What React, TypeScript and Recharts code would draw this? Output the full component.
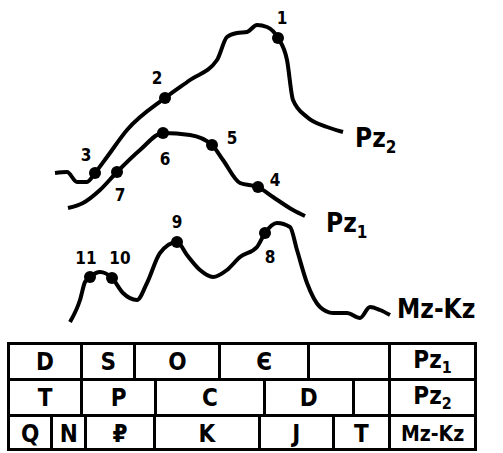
import React from 'react';
import { LineChart, Line, XAxis, YAxis, ReferenceDot } from 'recharts';

// curve traces, x/y (y grows downward)
const pz2 = [
  { x: 55, y: 173 }, { x: 67, y: 172 }, { x: 77, y: 182 }, { x: 87, y: 182 },
  { x: 95, y: 173, mark: '3' }, { x: 107, y: 157 }, { x: 127, y: 130 },
  { x: 165, y: 98, mark: '2' }, { x: 190, y: 80 }, { x: 217, y: 60 },
  { x: 227, y: 37 }, { x: 237, y: 33 }, { x: 247, y: 32 }, { x: 257, y: 25 },
  { x: 267, y: 27 }, { x: 278, y: 38, mark: '1' }, { x: 287, y: 60 },
  { x: 293, y: 100 }, { x: 307, y: 117 }, { x: 327, y: 127 }, { x: 343, y: 132 },
];

const pz1 = [
  { x: 68, y: 208 }, { x: 83, y: 203 }, { x: 100, y: 190 }, { x: 117, y: 172, mark: '7' },
  { x: 140, y: 150 }, { x: 163, y: 133, mark: '6' }, { x: 190, y: 135 },
  { x: 212, y: 145, mark: '5' }, { x: 223, y: 160 }, { x: 240, y: 183 },
  { x: 258, y: 187, mark: '4' }, { x: 273, y: 197 }, { x: 293, y: 210 }, { x: 305, y: 216 },
];

const mzKz = [
  { x: 70, y: 322 }, { x: 80, y: 300 }, { x: 85, y: 282 }, { x: 90, y: 277, mark: '11' },
  { x: 100, y: 272 }, { x: 112, y: 278, mark: '10' }, { x: 123, y: 293 }, { x: 137, y: 300 },
  { x: 147, y: 283 }, { x: 160, y: 253 }, { x: 177, y: 242, mark: '9' }, { x: 187, y: 255 },
  { x: 200, y: 270 }, { x: 213, y: 277 }, { x: 227, y: 270 }, { x: 240, y: 257 },
  { x: 257, y: 247 }, { x: 265, y: 233, mark: '8' }, { x: 277, y: 223 }, { x: 290, y: 227 },
  { x: 297, y: 250 }, { x: 307, y: 283 }, { x: 320, y: 307 }, { x: 333, y: 313 },
  { x: 347, y: 313 }, { x: 360, y: 318 }, { x: 370, y: 307 }, { x: 380, y: 310 }, { x: 390, y: 315 },
];

const seriesNames = [
  { base: 'Pz', sub: '2', x: 355, y: 147 },
  { base: 'Pz', sub: '1', x: 326, y: 232 },
  { base: 'Mz-Kz', sub: '', x: 397, y: 318 },
];

// where each point number sits relative to its dot
const markOffsets: Record<string, [number, number]> = {
  '1': [4, -20], '2': [-8, -20], '3': [-9, -18], '4': [17, -7], '5': [20, -7],
  '6': [2, 26], '7': [3, 23], '8': [5, 24], '9': [0, -20], '10': [8, -20], '11': [-4, -19],
};

// stratigraphic table
const row1 = ['D', 'S', 'O', 'Є', '', 'Pz1'];
const row2 = ['T', 'P', 'C', 'D', '', 'Pz2'];
const row3 = ['Q', 'N', '₽', 'K', 'J', 'T', 'Mz-Kz'];
const row1W = [71, 54, 86, 90, 82, 87];
const row2W = [71, 75, 110, 90, 37, 87];
const row3W = [41, 34, 70, 106, 75, 57, 87];

const font = '"DejaVu Sans Condensed", "DejaVu Sans", sans-serif';

const renderDot = (props: any) => {
  const { cx, cy, payload, index } = props;
  if (!payload.mark) return <g key={`d-${index}`} />;
  const [dx, dy] = markOffsets[payload.mark] || [0, -18];
  return (
    <g key={`d-${index}`}>
      <circle cx={cx} cy={cy} r={6} fill="#000" />
      <text x={cx + dx} y={cy + dy} textAnchor="middle" dominantBaseline="central"
        fontFamily={font} fontWeight="bold" fontSize={17} fill="#000">{payload.mark}</text>
    </g>
  );
};

const renderCell = (text: string, w: number, i: number) => {
  let content: React.ReactNode = text;
  if (text === 'Pz1' || text === 'Pz2') {
    content = <span>Pz<span style={{ fontSize: 16, verticalAlign: -5 }}>{text[2]}</span></span>;
  }
  return (
    <div key={i} style={{
      width: w, boxSizing: 'border-box', borderLeft: i === 0 ? 'none' : '3px solid #000',
      display: 'flex', alignItems: 'center', justifyContent: 'center',
      fontSize: text === 'Mz-Kz' ? 21 : 24,
    }}>{content}</div>
  );
};

const App: React.FC = () => {
  const rows = [[row1, row1W], [row2, row2W], [row3, row3W]] as [string[], number[]][];
  return (
    <div style={{ position: 'absolute', left: 0, top: 0, width: 503, height: 453, background: '#fff' }}>
      <LineChart width={503} height={340} margin={{ top: 0, right: 0, bottom: 0, left: 0 }}>
        <XAxis type="number" dataKey="x" domain={[0, 503]} hide />
        <YAxis type="number" dataKey="y" domain={[0, 340]} reversed hide />
        <Line data={pz2} dataKey="y" type="monotone" stroke="#000" strokeWidth={4}
          dot={renderDot} activeDot={false} isAnimationActive={false} />
        <Line data={pz1} dataKey="y" type="monotone" stroke="#000" strokeWidth={4}
          dot={renderDot} activeDot={false} isAnimationActive={false} />
        <Line data={mzKz} dataKey="y" type="monotone" stroke="#000" strokeWidth={4}
          dot={renderDot} activeDot={false} isAnimationActive={false} />
        {seriesNames.map((s, i) => (
          <ReferenceDot key={i} x={s.x} y={s.y} r={0} ifOverflow="visible"
            shape={(p: any) => (
              <text x={p.cx} y={p.cy} fontFamily={font} fontWeight="bold" fontSize={26} fill="#000">
                {s.base}
                {s.sub && <tspan fontSize={17} dy={6}>{s.sub}</tspan>}
              </text>
            )} />
        ))}
      </LineChart>
      <div style={{
        position: 'absolute', left: 7, top: 342, width: 470, height: 109, boxSizing: 'border-box',
        border: '3px solid #000', fontFamily: font, fontWeight: 'bold', color: '#000',
      }}>
        {rows.map(([texts, widths], r) => (
          <div key={r} style={{
            display: 'flex', height: r === 0 ? 33 : 36, borderTop: r === 0 ? 'none' : '3px solid #000', boxSizing: 'border-box',
          }}>
            {texts.map((t, i) => renderCell(t, widths[i], i))}
          </div>
        ))}
      </div>
    </div>
  );
};

export default App;
